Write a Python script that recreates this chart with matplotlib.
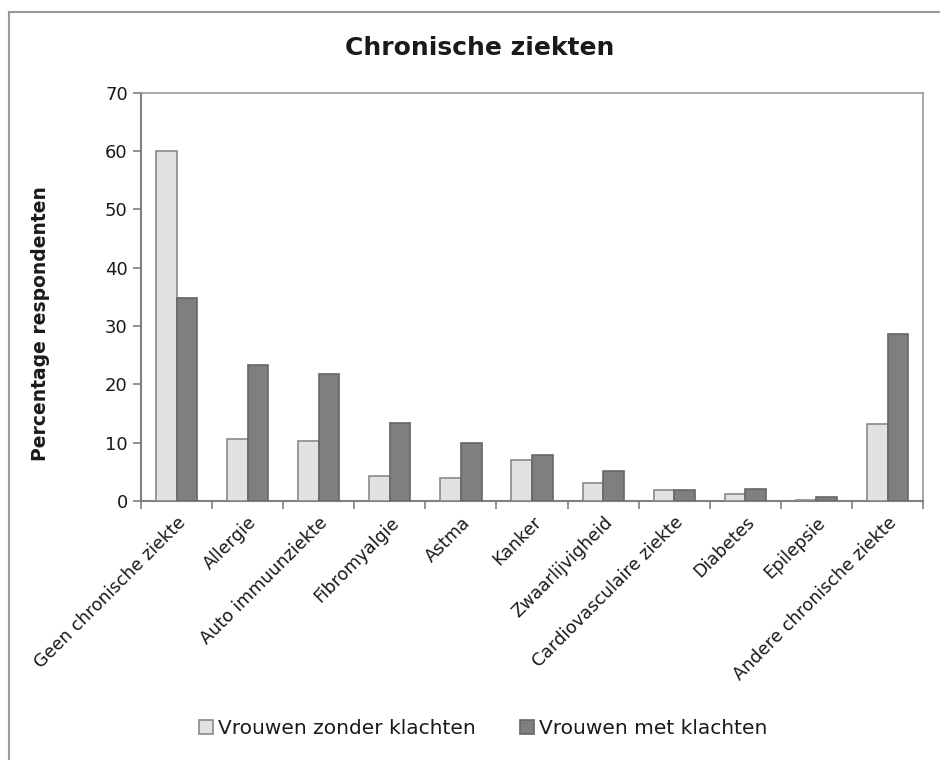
import numpy as np
import matplotlib
matplotlib.use("Agg")
import matplotlib.pyplot as plt
from matplotlib.lines import Line2D

# Data
categories = ["Geen chronische ziekte", "Allergie", "Auto immuunziekte", "Fibromyalgie",
              "Astma", "Kanker", "Zwaarlijvigheid", "Cardiovasculaire ziekte",
              "Diabetes", "Epilepsie", "Andere chronische ziekte"]
zonder = [60.0, 10.6, 10.2, 4.3, 3.9, 7.0, 3.1, 1.9, 1.1, 0.1, 13.2]
met = [34.8, 23.3, 21.7, 13.3, 10.0, 7.8, 5.1, 1.9, 2.1, 0.6, 28.6]

plt.rcParams['font.family'] = ['DejaVu Sans']

fig = plt.figure(figsize=(9.4, 7.6), dpi=100)
ax = fig.add_axes([0.150, 0.341, 0.832, 0.537])

x = np.arange(len(categories))
w = 0.29
ax.bar(x - w / 2, zonder, w, color="#e2e2e2", edgecolor="#8a8a8a", linewidth=1.2,
       label="Vrouwen zonder klachten", zorder=3)
ax.bar(x + w / 2, met, w, color="#7f7f7f", edgecolor="#666666", linewidth=1.2,
       label="Vrouwen met klachten", zorder=3)

ax.set_xlim(-0.5, len(categories) - 0.5)
ax.set_ylim(0, 70)
ax.set_yticks(range(0, 71, 10))
ax.tick_params(axis="y", labelsize=13, colors="#808080", labelcolor="#1a1a1a",
               length=6, width=1.2, direction="out")

# category boundary ticks
ax.set_xticks(np.arange(-0.5, len(categories)), minor=False)
ax.set_xticklabels([])
ax.set_xticks(x, minor=True)
ax.set_xticklabels(categories, minor=True, rotation=45, ha="right",
                   rotation_mode="anchor", fontsize=12.6, color="#1a1a1a")
ax.tick_params(axis="x", which="major", length=6, width=1.2, colors="#808080", direction="out")
ax.tick_params(axis="x", which="minor", length=0, pad=9)

for side in ["left", "bottom"]:
    ax.spines[side].set_color("#808080")
    ax.spines[side].set_linewidth(1.5)
for side in ["top", "right"]:
    ax.spines[side].set_color("#9a9a9a")
    ax.spines[side].set_linewidth(1.2)

ax.set_ylabel("Percentage respondenten", fontsize=13.5, fontweight="bold", color="#1a1a1a")
ax.yaxis.set_label_coords(-0.116, 0.435)

fig.text(0.51, 0.937, "Chronische ziekten", ha="center", va="center",
         fontsize=18, fontweight="bold", color="#1a1a1a")

leg = fig.legend(loc="center", bbox_to_anchor=(0.514, 0.041), ncol=2, frameon=False,
                 fontsize=14.5, handlelength=0.7, handleheight=0.7, handletextpad=0.25,
                 columnspacing=2.2)
for t in leg.get_texts():
    t.set_color("#1a1a1a")

# outer chart border (left and top visible)
fig.add_artist(Line2D([9 / 940, 9 / 940], [0, 1 - 12 / 760], transform=fig.transFigure,
                      color="#999999", linewidth=1.5))
fig.add_artist(Line2D([9 / 940, 1], [1 - 12 / 760, 1 - 12 / 760], transform=fig.transFigure,
                      color="#999999", linewidth=1.5))

fig.savefig("out.png", dpi=100)
